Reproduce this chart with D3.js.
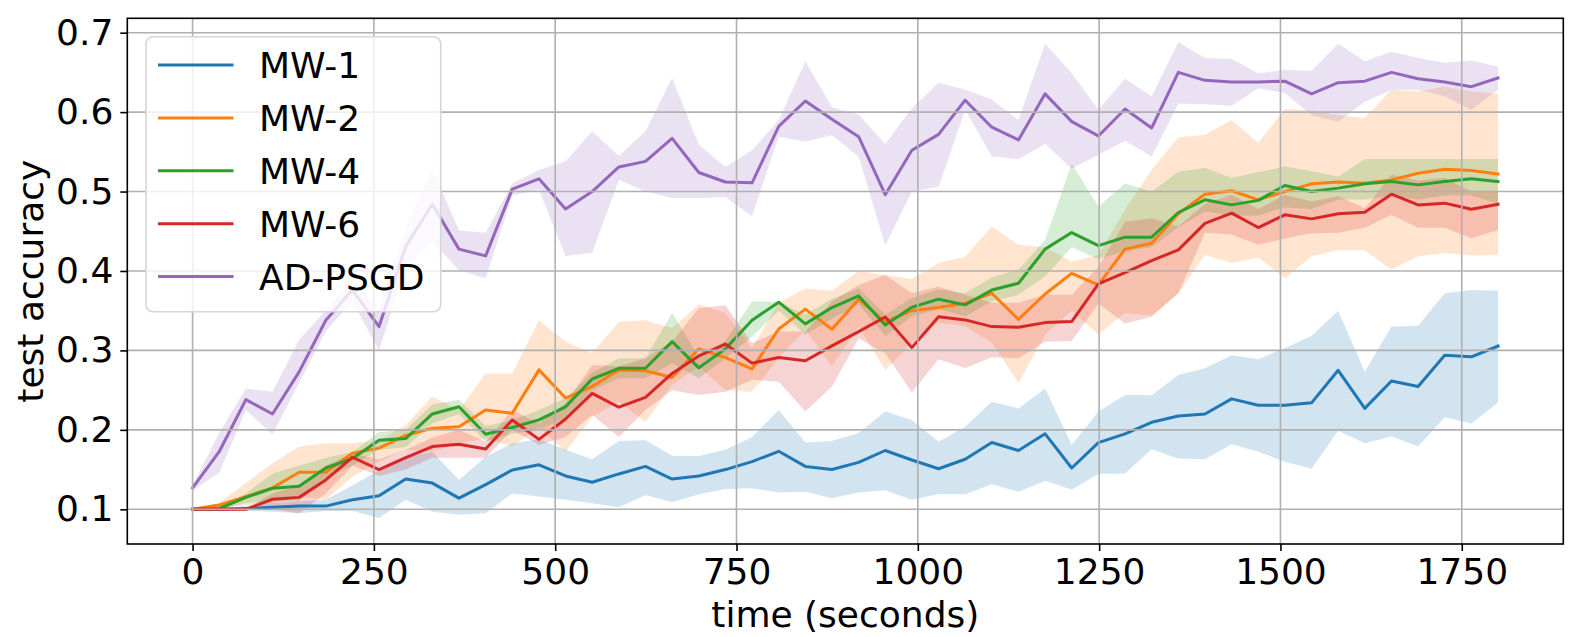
<!DOCTYPE html>
<html>
<head>
<meta charset="utf-8">
<script src="https://cdn.jsdelivr.net/npm/d3@7/dist/d3.min.js"></script>
<style>
  html, body { margin: 0; padding: 0; background: #fff; }
  svg text { font-family: "DejaVu Sans", sans-serif; }
</style>
</head>
<body>
<svg id="chart" width="1577" height="637"></svg>
<script>
// ---------------- data ----------------
const times = [0, 36.7, 73.5, 110.2, 146.9, 183.7, 220.4, 257.1, 293.9, 330.6, 367.3, 404.1, 440.8, 477.6, 514.3, 551.0, 587.8, 624.5, 661.2, 698.0, 734.7, 771.4, 808.2, 844.9, 881.6, 918.4, 955.1, 991.8, 1028.6, 1065.3, 1102.0, 1138.8, 1175.5, 1212.2, 1249.0, 1285.7, 1322.4, 1359.2, 1395.9, 1432.7, 1469.4, 1506.1, 1542.9, 1579.6, 1616.3, 1653.1, 1689.8, 1726.5, 1763.3, 1800.0];

const seriesNames = ["MW-1", "MW-2", "MW-4", "MW-6", "AD-PSGD"];

const mw1Mean  = [0.100, 0.100, 0.101, 0.1025, 0.104, 0.104, 0.112, 0.117, 0.138, 0.133, 0.114, 0.131, 0.1495, 0.156, 0.142, 0.134, 0.1445, 0.154, 0.138, 0.142, 0.150, 0.160, 0.173, 0.154, 0.150, 0.159, 0.174, 0.162, 0.151, 0.163, 0.184, 0.174, 0.195, 0.152, 0.184, 0.195, 0.2095, 0.2175, 0.220, 0.239, 0.231, 0.231, 0.234, 0.275, 0.227, 0.2615, 0.2545, 0.294, 0.292, 0.3055];
const mw1Upper = [0.100, 0.101, 0.104, 0.1075, 0.110, 0.112, 0.130, 0.149, 0.166, 0.1725, 0.137, 0.166, 0.183, 0.188, 0.175, 0.163, 0.186, 0.187, 0.1675, 0.167, 0.175, 0.191, 0.225, 0.184, 0.186, 0.196, 0.223, 0.2125, 0.185, 0.204, 0.2355, 0.227, 0.252, 0.181, 0.223, 0.244, 0.2435, 0.269, 0.2775, 0.294, 0.289, 0.303, 0.318, 0.350, 0.273, 0.330, 0.331, 0.372, 0.376, 0.375];
const mw1Lower = [0.100, 0.099, 0.098, 0.097, 0.095, 0.098, 0.098, 0.089, 0.112, 0.097, 0.093, 0.095, 0.120, 0.116, 0.112, 0.1075, 0.1025, 0.118, 0.109, 0.119, 0.1255, 0.1265, 0.121, 0.122, 0.114, 0.121, 0.124, 0.112, 0.119, 0.119, 0.1315, 0.122, 0.136, 0.125, 0.1445, 0.145, 0.1755, 0.164, 0.163, 0.182, 0.1725, 0.160, 0.151, 0.199, 0.183, 0.1915, 0.179, 0.216, 0.208, 0.2345];

const mw2Mean  = [0.100, 0.1054, 0.116, 0.127, 0.1466, 0.1466, 0.1705, 0.177, 0.193, 0.202, 0.204, 0.225, 0.221, 0.2755, 0.240, 0.2545, 0.2755, 0.2745, 0.266, 0.302, 0.291, 0.2767, 0.327, 0.352, 0.3267, 0.3645, 0.336, 0.350, 0.354, 0.3594, 0.372, 0.339, 0.371, 0.397, 0.3825, 0.4275, 0.435, 0.472, 0.4967, 0.501, 0.4896, 0.500, 0.5097, 0.512, 0.5106, 0.5147, 0.523, 0.528, 0.5265, 0.522];
const mw2Upper = [0.100, 0.108, 0.133, 0.158, 0.179, 0.183, 0.183, 0.187, 0.206, 0.242, 0.225, 0.271, 0.271, 0.338, 0.311, 0.2965, 0.336, 0.338, 0.328, 0.358, 0.347, 0.303, 0.360, 0.378, 0.375, 0.400, 0.395, 0.390, 0.410, 0.418, 0.456, 0.433, 0.430, 0.412, 0.420, 0.477, 0.527, 0.5685, 0.5714, 0.590, 0.561, 0.604, 0.602, 0.596, 0.5925, 0.628, 0.626, 0.632, 0.626, 0.623];
const mw2Lower = [0.100, 0.102, 0.105, 0.107, 0.116, 0.112, 0.141, 0.160, 0.175, 0.1725, 0.183, 0.189, 0.179, 0.204, 0.1725, 0.2166, 0.2355, 0.210, 0.2566, 0.2796, 0.250, 0.248, 0.290, 0.326, 0.280, 0.330, 0.275, 0.310, 0.335, 0.330, 0.310, 0.259, 0.320, 0.350, 0.320, 0.347, 0.344, 0.372, 0.420, 0.410, 0.417, 0.391, 0.4185, 0.426, 0.426, 0.402, 0.4185, 0.4225, 0.4195, 0.420];

const mw4Mean  = [0.100, 0.101, 0.115, 0.1265, 0.129, 0.152, 0.164, 0.187, 0.189, 0.220, 0.229, 0.1945, 0.203, 0.2125, 0.229, 0.264, 0.2775, 0.2775, 0.311, 0.278, 0.302, 0.338, 0.3607, 0.3334, 0.354, 0.3686, 0.332, 0.3544, 0.3645, 0.3573, 0.376, 0.3846, 0.4275, 0.4484, 0.432, 0.4426, 0.4426, 0.4736, 0.4896, 0.4832, 0.4889, 0.5076, 0.500, 0.5043, 0.5097, 0.5126, 0.5084, 0.5126, 0.516, 0.5126];
const mw4Upper = [0.100, 0.103, 0.120, 0.145, 0.155, 0.165, 0.172, 0.197, 0.200, 0.232, 0.238, 0.205, 0.212, 0.225, 0.240, 0.272, 0.290, 0.290, 0.347, 0.292, 0.312, 0.3615, 0.3615, 0.345, 0.365, 0.378, 0.345, 0.366, 0.377, 0.372, 0.392, 0.402, 0.439, 0.535, 0.481, 0.510, 0.500, 0.525, 0.530, 0.517, 0.5245, 0.5315, 0.526, 0.519, 0.541, 0.541, 0.541, 0.541, 0.541, 0.541];
const mw4Lower = [0.100, 0.099, 0.108, 0.110, 0.110, 0.140, 0.155, 0.175, 0.178, 0.208, 0.220, 0.185, 0.195, 0.200, 0.215, 0.250, 0.265, 0.265, 0.284, 0.265, 0.290, 0.3175, 0.350, 0.320, 0.340, 0.358, 0.318, 0.343, 0.352, 0.343, 0.362, 0.370, 0.393, 0.430, 0.415, 0.425, 0.430, 0.455, 0.475, 0.470, 0.470, 0.480, 0.478, 0.490, 0.490, 0.495, 0.490, 0.495, 0.495, 0.485];

const mw6Mean  = [0.100, 0.100, 0.100, 0.1126, 0.115, 0.137, 0.1655, 0.150, 0.165, 0.179, 0.182, 0.176, 0.2125, 0.188, 0.2137, 0.246, 0.2285, 0.241, 0.271, 0.293, 0.308, 0.284, 0.291, 0.287, 0.3057, 0.3237, 0.342, 0.3035, 0.3425, 0.3384, 0.330, 0.3292, 0.335, 0.3363, 0.3838, 0.398, 0.413, 0.4266, 0.460, 0.4728, 0.4547, 0.4707, 0.4656, 0.472, 0.474, 0.4967, 0.4832, 0.4854, 0.4778, 0.484];
const mw6Upper = [0.100, 0.100, 0.101, 0.120, 0.130, 0.155, 0.170, 0.163, 0.175, 0.190, 0.200, 0.185, 0.225, 0.208, 0.2335, 0.2817, 0.280, 0.290, 0.311, 0.353, 0.357, 0.309, 0.3237, 0.3237, 0.3615, 0.3825, 0.395, 0.372, 0.380, 0.370, 0.360, 0.360, 0.370, 0.370, 0.405, 0.462, 0.4665, 0.456, 0.4845, 0.496, 0.478, 0.496, 0.4875, 0.494, 0.479, 0.521, 0.514, 0.517, 0.500, 0.500];
const mw6Lower = [0.100, 0.100, 0.099, 0.100, 0.095, 0.120, 0.155, 0.142, 0.150, 0.165, 0.165, 0.165, 0.200, 0.181, 0.191, 0.219, 0.191, 0.225, 0.250, 0.244, 0.248, 0.263, 0.2607, 0.223, 0.2545, 0.315, 0.2965, 0.247, 0.289, 0.278, 0.2915, 0.290, 0.311, 0.312, 0.359, 0.334, 0.3425, 0.372, 0.448, 0.446, 0.433, 0.441, 0.4476, 0.448, 0.4544, 0.4707, 0.4544, 0.4544, 0.4413, 0.4517];

const adMean  = [0.127, 0.1725, 0.238, 0.220, 0.273, 0.338, 0.376, 0.330, 0.431, 0.484, 0.4275, 0.419, 0.503, 0.516, 0.478, 0.500, 0.531, 0.538, 0.567, 0.524, 0.512, 0.511, 0.582, 0.614, 0.591, 0.569, 0.496, 0.552, 0.572, 0.615, 0.581, 0.565, 0.623, 0.588, 0.570, 0.604, 0.580, 0.650, 0.640, 0.638, 0.638, 0.639, 0.623, 0.637, 0.639, 0.650, 0.642, 0.638, 0.632, 0.643];
const adUpper = [0.130, 0.196, 0.252, 0.248, 0.313, 0.351, 0.390, 0.351, 0.455, 0.529, 0.451, 0.448, 0.510, 0.527, 0.538, 0.576, 0.545, 0.576, 0.643, 0.559, 0.531, 0.552, 0.590, 0.664, 0.606, 0.597, 0.560, 0.605, 0.637, 0.628, 0.616, 0.590, 0.686, 0.649, 0.603, 0.642, 0.620, 0.688, 0.668, 0.667, 0.649, 0.653, 0.652, 0.686, 0.664, 0.676, 0.668, 0.662, 0.665, 0.657];
const adLower = [0.124, 0.146, 0.225, 0.194, 0.259, 0.324, 0.362, 0.300, 0.405, 0.437, 0.401, 0.391, 0.495, 0.502, 0.419, 0.423, 0.515, 0.500, 0.492, 0.492, 0.493, 0.469, 0.569, 0.563, 0.571, 0.544, 0.432, 0.500, 0.506, 0.603, 0.544, 0.541, 0.560, 0.529, 0.546, 0.564, 0.544, 0.611, 0.610, 0.608, 0.630, 0.624, 0.596, 0.588, 0.613, 0.628, 0.628, 0.620, 0.603, 0.628];

const xTicks = [0, 250, 500, 750, 1000, 1250, 1500, 1750];
const yTicks = [0.1, 0.2, 0.3, 0.4, 0.5, 0.6, 0.7];
const xLabel = "time (seconds)";
const yLabel = "test accuracy";

// ---------------- build ----------------
const colors = ["#1f77b4", "#ff7f0e", "#2ca02c", "#d62728", "#9467bd"];
const series = [
  {name: seriesNames[0], mean: mw1Mean, upper: mw1Upper, lower: mw1Lower, color: colors[0]},
  {name: seriesNames[1], mean: mw2Mean, upper: mw2Upper, lower: mw2Lower, color: colors[1]},
  {name: seriesNames[2], mean: mw4Mean, upper: mw4Upper, lower: mw4Lower, color: colors[2]},
  {name: seriesNames[3], mean: mw6Mean, upper: mw6Upper, lower: mw6Lower, color: colors[3]},
  {name: seriesNames[4], mean: adMean,  upper: adUpper,  lower: adLower,  color: colors[4]}
];

const L = 127.3, R = 1563.3, T = 18.3, B = 544;
const FS = 36;
const svg = d3.select("#chart");
const x = d3.scaleLinear().domain([-90, 1890]).range([L, R]);
const y = d3.scaleLinear().domain([0.0563, 0.7181]).range([B, T]);

const clipId = "plotclip";
svg.append("defs").append("clipPath").attr("id", clipId)
  .append("rect").attr("x", L).attr("y", T).attr("width", R - L).attr("height", B - T);

const plot = svg.append("g").attr("clip-path", `url(#${clipId})`);

// fills (drawn beneath everything)
const area = d3.area()
  .x((d, i) => x(times[i]))
  .y0(d => y(d[0]))
  .y1(d => y(d[1]));
series.forEach(s => {
  const pts = s.lower.map((lo, i) => [lo, s.upper[i]]);
  plot.append("path").attr("d", area(pts))
    .attr("fill", s.color).attr("fill-opacity", 0.2).attr("stroke", "none");
});

// grid
const grid = svg.append("g");
xTicks.forEach(t => grid.append("line")
  .attr("x1", x(t)).attr("x2", x(t)).attr("y1", T).attr("y2", B)
  .attr("stroke", "#b0b0b0").attr("stroke-width", 1.6));
yTicks.forEach(t => grid.append("line")
  .attr("x1", L).attr("x2", R).attr("y1", y(t)).attr("y2", y(t))
  .attr("stroke", "#b0b0b0").attr("stroke-width", 1.6));

// lines
const line = d3.line().x((d, i) => x(times[i])).y(d => y(d));
series.forEach(s => {
  plot.append("path").attr("d", line(s.mean))
    .attr("fill", "none").attr("stroke", s.color).attr("stroke-width", 3)
    .attr("stroke-linejoin", "round").attr("stroke-linecap", "square");
});

// axes
const xAxis = d3.axisBottom(x).tickValues(xTicks).tickFormat(d3.format("d")).tickSize(7).tickPadding(7);
const yAxis = d3.axisLeft(y).tickValues(yTicks).tickFormat(d3.format(".1f")).tickSize(7).tickPadding(7);
const gx = svg.append("g").attr("transform", `translate(0,${B})`).call(xAxis);
const gy = svg.append("g").attr("transform", `translate(${L},0)`).call(yAxis);
[gx, gy].forEach(g => {
  g.select(".domain").remove();
  g.selectAll(".tick line").attr("stroke", "#000").attr("stroke-width", 1.6);
  g.selectAll(".tick text").attr("fill", "#000").style("font-size", FS + "px")
    .style("font-family", "'DejaVu Sans', sans-serif");
});
gx.selectAll(".tick text").attr("dy", "0.72em");

// spines
svg.append("rect").attr("x", L).attr("y", T).attr("width", R - L).attr("height", B - T)
  .attr("fill", "none").attr("stroke", "#000").attr("stroke-width", 1.6);

// axis labels
svg.append("text").attr("x", (L + R) / 2).attr("y", 627)
  .attr("text-anchor", "middle").style("font-size", FS + "px").text(xLabel);
svg.append("text").attr("transform", `translate(43,${(T + B) / 2}) rotate(-90)`)
  .attr("text-anchor", "middle").style("font-size", FS + "px").text(yLabel);

// legend
const lg = svg.append("g");
lg.append("rect").attr("x", 146).attr("y", 36.7).attr("width", 294.7).attr("height", 275)
  .attr("rx", 7).attr("ry", 7)
  .attr("fill", "#fff").attr("fill-opacity", 0.8)
  .attr("stroke", "#d6d6d6").attr("stroke-width", 1.6);
const legendY = d3.scaleLinear().domain([0, 4]).range([65, 276.6]);
series.forEach((s, i) => {
  const yy = legendY(i);
  lg.append("line").attr("x1", 159.5).attr("x2", 232).attr("y1", yy).attr("y2", yy)
    .attr("stroke", s.color).attr("stroke-width", 3).attr("stroke-linecap", "square");
  lg.append("text").attr("x", 259).attr("y", yy + 13.2)
    .style("font-size", FS + "px").attr("fill", "#000").text(s.name);
});
</script>
</body>
</html>
